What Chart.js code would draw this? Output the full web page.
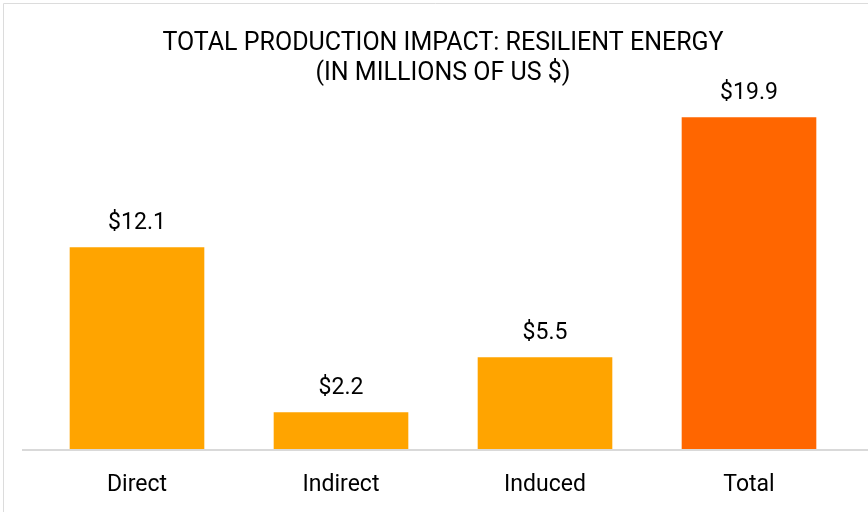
<!DOCTYPE html>
<html>
<head>
<meta charset="utf-8">
<script src="https://cdn.jsdelivr.net/npm/chart.js@4"></script>
<style>
  html, body { margin: 0; padding: 0; background: #ffffff; }
  #wrap { position: relative; width: 868px; height: 512px; }
</style>
</head>
<body>
<div id="wrap"><canvas id="impactChart" width="868" height="512"></canvas></div>
<script>
const categorias = ["Direct", "Indirect", "Induced", "Total"];
const valores = [12.1, 2.2, 5.5, 19.9];
const cores = ["#FFA400", "#FFA400", "#FFA400", "#FF6600"];
const tituloLinhas = ["TOTAL PRODUCTION IMPACT: RESILIENT ENERGY", "(IN MILLIONS OF US $)"];

const fonte = "Roboto, 'Noto Sans', sans-serif";

// labels above bars + baseline + frame
const rotulosPlugin = {
    id: "rotulos",
    afterDatasetsDraw(chart) {
        const ctx = chart.ctx;
        const meta = chart.getDatasetMeta(0);
        ctx.save();
        ctx.fillStyle = "#000000";
        ctx.font = "23px " + fonte;
        ctx.textAlign = "center";
        ctx.textBaseline = "middle";
        meta.data.forEach((bar, i) => {
            ctx.fillText("$" + valores[i].toFixed(1), bar.x, bar.y - 24);
        });

        const base = chart.scales.y.getPixelForValue(0);
        ctx.strokeStyle = "#d9d9d9";
        ctx.lineWidth = 2;
        ctx.beginPath();
        ctx.moveTo(22, base + 1);
        ctx.lineTo(chart.width, base + 1);
        ctx.stroke();

        ctx.lineWidth = 1;
        ctx.strokeStyle = "#dcdcdc";
        ctx.beginPath();
        ctx.moveTo(3.5, chart.height);
        ctx.lineTo(3.5, 3.5);
        ctx.lineTo(chart.width, 3.5);
        ctx.stroke();
        ctx.restore();
    }
};

new Chart(document.getElementById("impactChart").getContext("2d"), {
    type: "bar",
    data: {
        labels: categorias,
        datasets: [{
            data: valores,
            backgroundColor: cores,
            borderWidth: 0,
            categoryPercentage: 0.66,
            barPercentage: 1
        }]
    },
    options: {
        responsive: false,
        animation: false,
        layout: {
            padding: { left: 35, right: 17, top: 0, bottom: 0 }
        },
        plugins: {
            legend: { display: false },
            tooltip: { enabled: false },
            title: {
                display: true,
                text: tituloLinhas,
                color: "#000000",
                font: { family: fonte, size: 25, weight: "normal", lineHeight: 1.2 },
                padding: { top: 29, bottom: 0 }
            }
        },
        scales: {
            x: {
                grid: { display: false, drawTicks: false },
                border: { display: false },
                ticks: {
                    color: "#000000",
                    padding: 22,
                    font: { family: fonte, size: 23 }
                },
                afterFit(scale) {
                    scale.height = 63;
                }
            },
            y: {
                display: false,
                min: 0,
                max: 21.6
            }
        }
    },
    plugins: [rotulosPlugin]
});
</script>
</body>
</html>
